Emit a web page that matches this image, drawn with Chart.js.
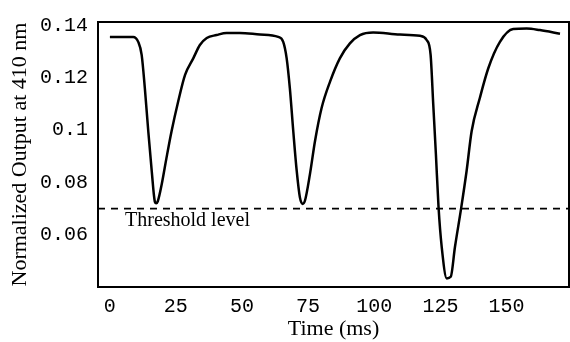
<!DOCTYPE html>
<html>
<head>
<meta charset="utf-8">
<script src="https://cdn.jsdelivr.net/npm/chart.js@4.4.1/dist/chart.umd.min.js"></script>
<style>
  body { margin: 0; background: #fff; }
  canvas { display: block; }
</style>
</head>
<body>
<canvas id="graficoSaida" width="570" height="342"></canvas>
<script>
// dados
var tempo = [0.1, 8.9, 10.8, 12.1, 13.3, 14.6, 15.9, 17.1, 17.6, 18.2, 19.7, 21.5, 23.4, 25.9, 28.5, 31.6, 34.1, 36.7, 40.4, 44.2, 49.2,
             56.8, 63.7, 65.6, 66.9, 68.1, 69.4, 70.7, 71.9, 72.9, 73.8, 75.7, 77.6, 80.1, 83.3, 87.0, 90.8, 94.6, 99.6,
             109.7, 117.3, 119.8, 121.3, 122.3, 123.3, 124.3, 125.5, 127.4, 128.9, 130.5, 132.8, 134.9, 136.8, 139.9,
             143.1, 147.5, 152.5, 157.6, 162.6, 170.2];
var saida = [0.1357, 0.1357, 0.1338, 0.1288, 0.1161, 0.0996, 0.0844, 0.0726, 0.0720, 0.0728, 0.0794, 0.0895, 0.0996, 0.1110, 0.1212, 0.1275, 0.1326, 0.1353, 0.1364, 0.1372, 0.1372,
             0.1366, 0.1357, 0.1338, 0.1275, 0.1161, 0.0996, 0.0844, 0.0743, 0.0718, 0.0730, 0.0832, 0.0958, 0.1085, 0.1186, 0.1275, 0.1332, 0.1364, 0.1374,
             0.1366, 0.1361, 0.1345, 0.1288, 0.1098, 0.0908, 0.0705, 0.0553, 0.0433, 0.0439, 0.0553, 0.0699, 0.0844, 0.0996, 0.1123,
             0.1237, 0.1338, 0.1387, 0.1389, 0.1383, 0.1369];
var limiar = 0.07;
var rotuloLimiar = "Threshold level";
var ticksX = [0, 25, 50, 75, 100, 125, 150];
var ticksY = [0.06, 0.08, 0.1, 0.12, 0.14];
var xMin = -4.4, xMax = 173.6;
var yMin = 0.04, yMax = 0.1414;

var pontos = [];
for (var i = 0; i < tempo.length; i++) {
    pontos.push({ x: tempo[i], y: saida[i] });
}

var moldura = {
    id: 'moldura',
    afterDatasetsDraw: function (chart) {
        var ctx = chart.ctx;
        var a = chart.chartArea;
        ctx.save();
        ctx.strokeStyle = '#000';
        ctx.lineWidth = 2;
        ctx.strokeRect(a.left, a.top, a.right - a.left, a.bottom - a.top);
        ctx.font = '20px "Liberation Serif"';
        ctx.fillStyle = '#000';
        ctx.textBaseline = 'middle';
        ctx.fillText(rotuloLimiar, a.left + 27, chart.scales.y.getPixelForValue(limiar) + 12);
        ctx.restore();
    }
};

var contexto = document.getElementById('graficoSaida').getContext('2d');
var grafico = new Chart(contexto, {
    type: 'line',
    data: {
        datasets: [{
            data: pontos,
            borderColor: '#000',
            borderWidth: 2.5,
            pointRadius: 0,
            cubicInterpolationMode: 'monotone',
            fill: false
        }, {
            data: [{ x: xMin, y: limiar }, { x: xMax, y: limiar }],
            borderColor: '#000',
            borderWidth: 1.6,
            borderDash: [7, 6],
            pointRadius: 0,
            fill: false
        }]
    },
    options: {
        responsive: false,
        animation: false,
        layout: { padding: { top: 20, right: 1, left: 0, bottom: 0 } },
        plugins: { legend: { display: false }, tooltip: { enabled: false } },
        scales: {
            x: {
                type: 'linear',
                min: xMin,
                max: xMax,
                grid: { display: false, drawTicks: false },
                border: { display: false },
                afterFit: function (s) { s.height = 55; },
                afterBuildTicks: function (s) { s.ticks = ticksX.map(function (v) { return { value: v }; }); },
                ticks: {
                    color: '#000',
                    padding: 8,
                    maxRotation: 0,
                    font: { family: '"Liberation Mono"', size: 20 },
                    callback: function (v) { return String(v); }
                },
                title: {
                    display: true,
                    text: 'Time (ms)',
                    color: '#000',
                    padding: { top: 0, bottom: 0 },
                    font: { family: '"Liberation Serif"', size: 22 }
                }
            },
            y: {
                type: 'linear',
                min: yMin,
                max: yMax,
                grid: { display: false, drawTicks: false },
                border: { display: false },
                afterFit: function (s) { s.width = 98; },
                afterBuildTicks: function (s) { s.ticks = ticksY.map(function (v) { return { value: v }; }); },
                ticks: {
                    color: '#000',
                    padding: 10,
                    font: { family: '"Liberation Mono"', size: 20 },
                    callback: function (v) { return String(v); }
                },
                title: {
                    display: true,
                    text: 'Normalized Output at 410 nm',
                    color: '#000',
                    padding: { top: 7, bottom: 0 },
                    font: { family: '"Liberation Serif"', size: 22 }
                }
            }
        }
    },
    plugins: [moldura]
});
</script>
</body>
</html>
